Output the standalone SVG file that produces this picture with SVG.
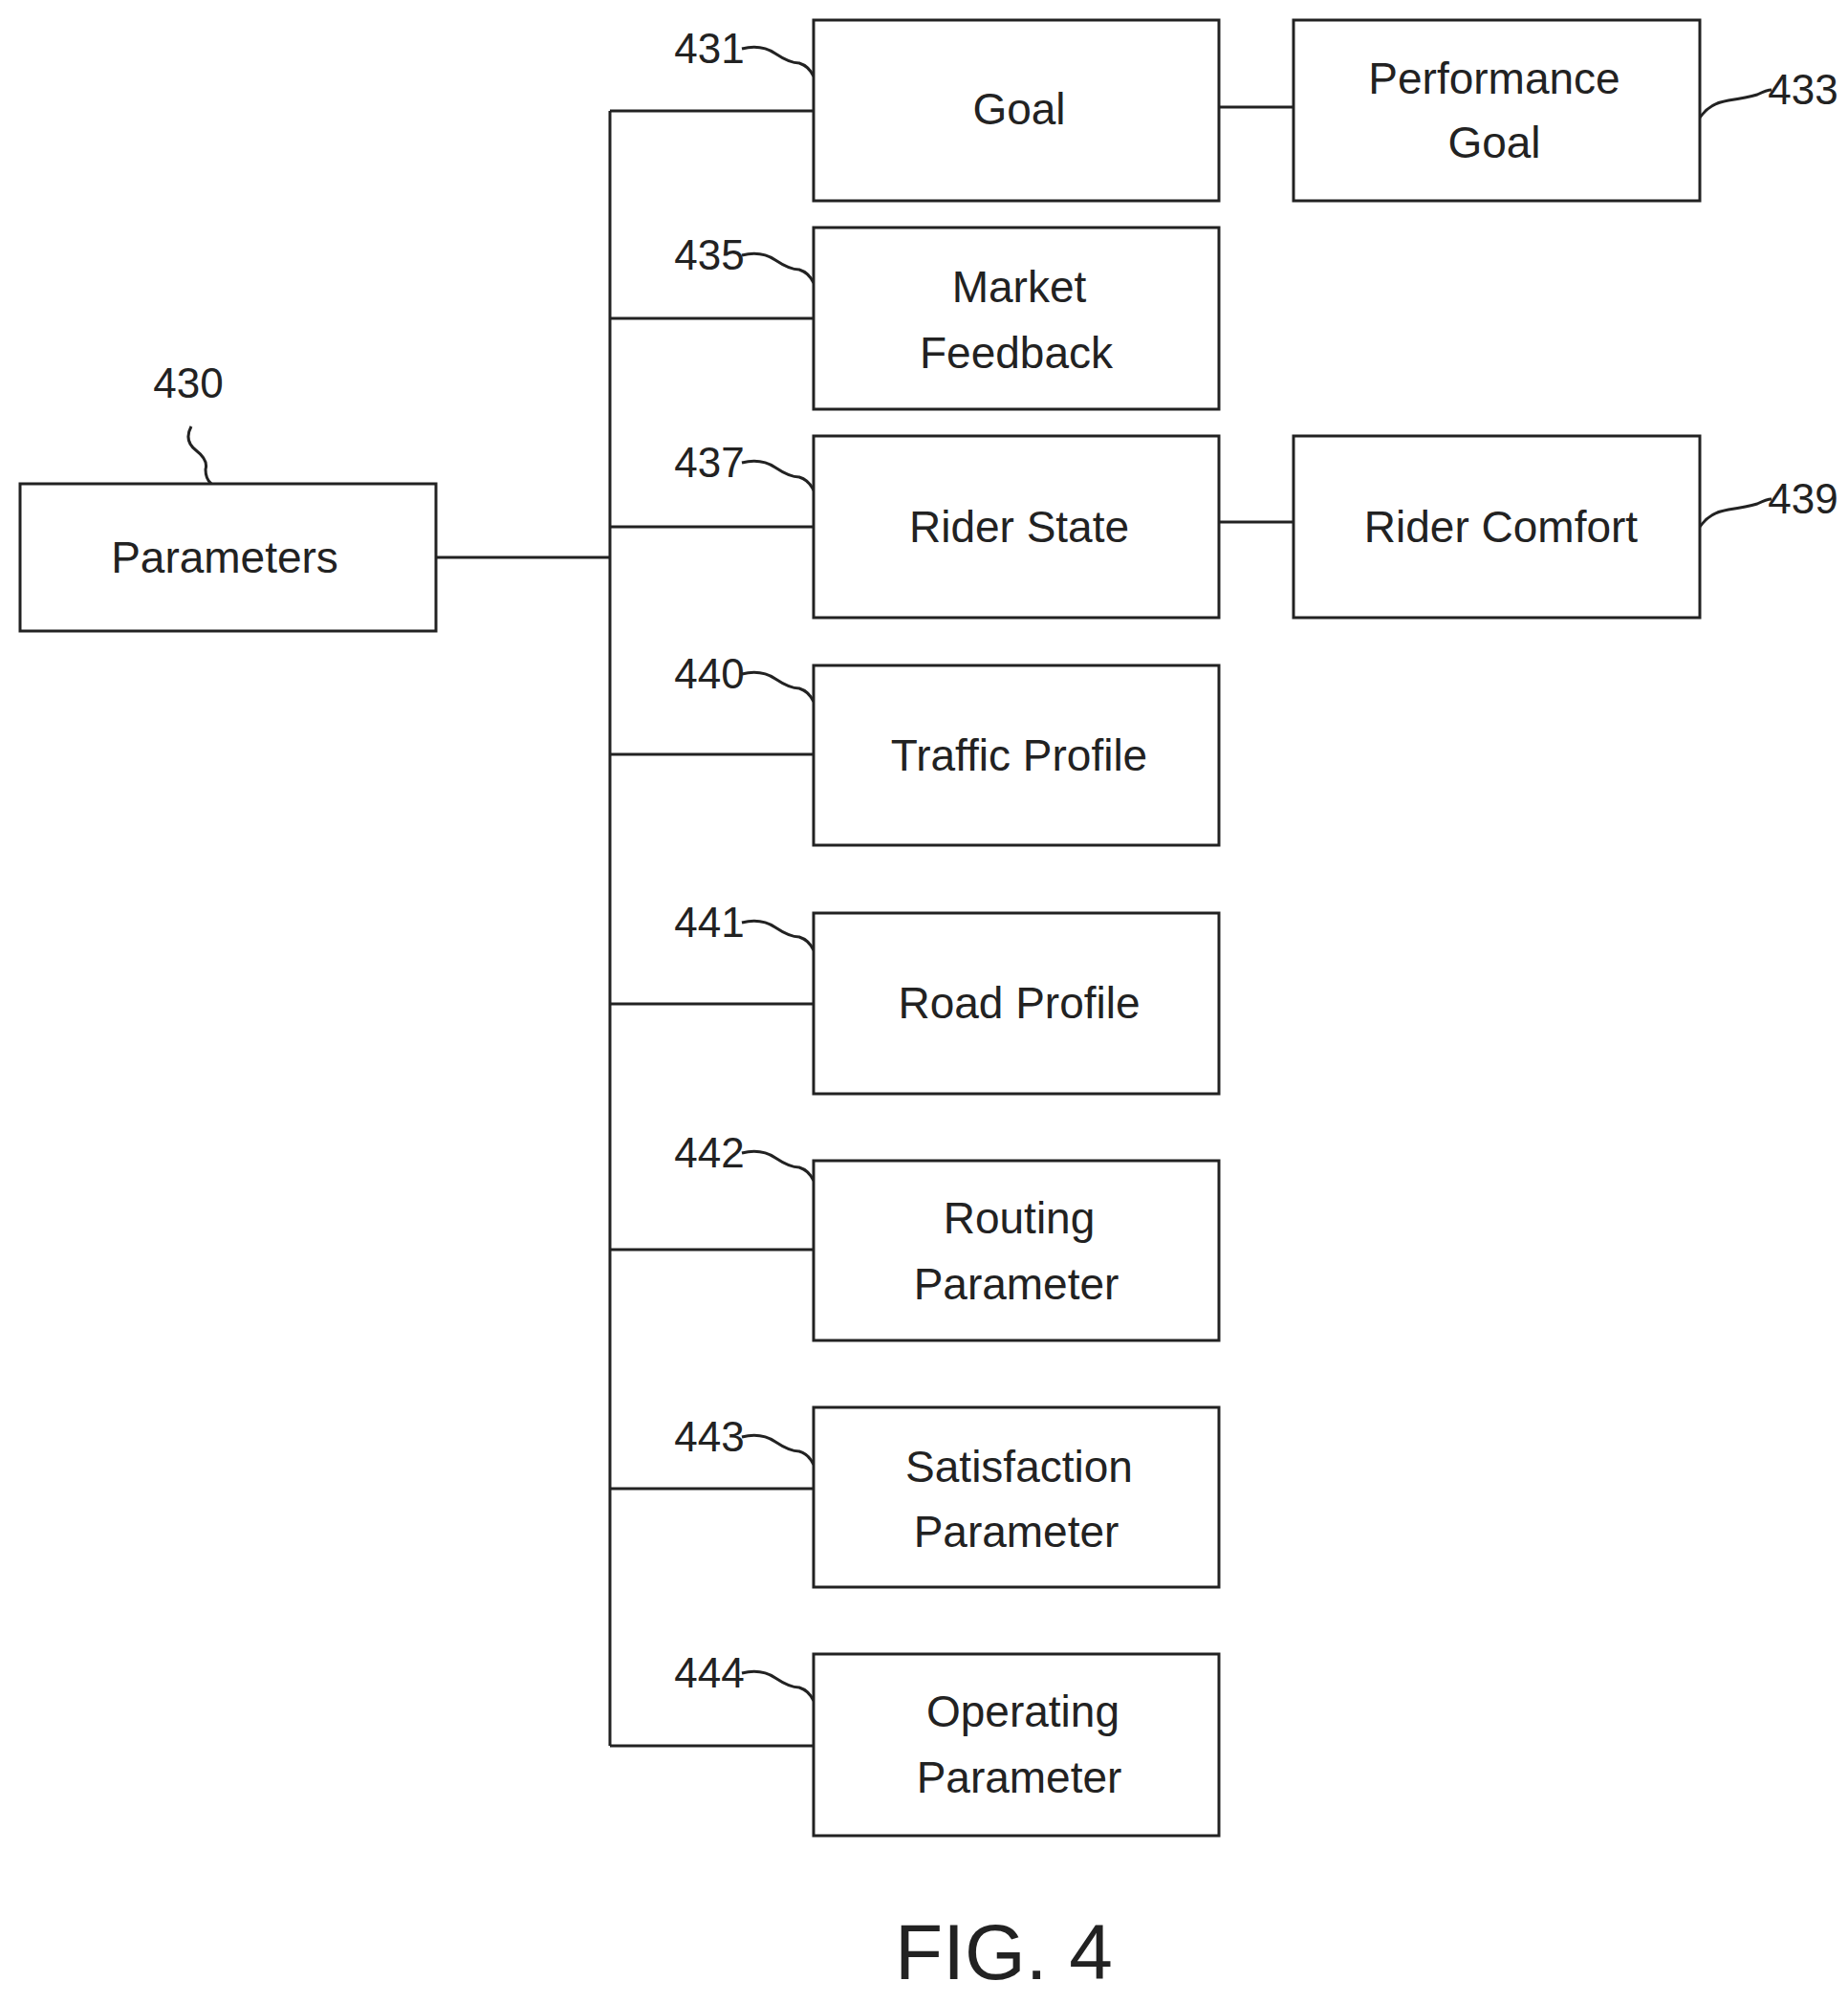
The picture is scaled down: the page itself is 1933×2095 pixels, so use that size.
<svg xmlns="http://www.w3.org/2000/svg" width="1933" height="2095" viewBox="0 0 1933 2095">
<style>
.b{fill:#fff;stroke:#222;stroke-width:3}
.t{font-family:"Liberation Sans",Arial,sans-serif;font-size:46px;fill:#222;text-anchor:middle}
.n{font-family:"Liberation Sans",Arial,sans-serif;font-size:44px;fill:#222;text-anchor:middle}
.c{fill:none;stroke:#222;stroke-width:3}
</style>
<rect width="1933" height="2095" fill="#fff"/>
<g id="connectors">
<path class="c" d="M456 583H638M638 116V1826M638 116H851M638 333H851M638 551H851M638 789H851M638 1050H851M638 1307H851M638 1557H851M638 1826H851M1275 112H1353M1275 546H1353"/>
<path class="c" d="M776 51q20-5 35 5t25 10q10 3 15 14M776 267q20-5 35 5t25 10q10 3 15 14M776 484q20-5 35 5t25 10q10 3 15 14M776 705q20-5 35 5t25 10q10 3 15 14M776 965q20-5 35 5t25 10q10 3 15 14M776 1206q20-5 35 5t25 10q10 3 15 14M776 1503q20-5 35 5t25 10q10 3 15 14M776 1750q20-5 35 5t25 10q10 3 15 14"/>
<path class="c" d="M200 446q-8 15 5 25t10 20q0 10 6 15M1778 123q10-15 30-18t30-6q10-5 15-5M1778 551q10-15 30-18t30-6q10-5 15-5"/>
</g>
<g class="n">
<text x="742" y="66">431</text><text x="742" y="282">435</text><text x="742" y="499">437</text><text x="742" y="720">440</text><text x="742" y="980">441</text><text x="742" y="1221">442</text><text x="742" y="1518">443</text><text x="742" y="1765">444</text>
<text x="197" y="416">430</text><text x="1886" y="109">433</text><text x="1886" y="537">439</text>
</g>
<g id="n430"><rect class="b" x="21" y="506" width="435" height="154"/><text class="t" x="235" y="599">Parameters</text></g>
<g id="n431"><rect class="b" x="851" y="21" width="424" height="189"/><text class="t" x="1066" y="130">Goal</text></g>
<g id="n433"><rect class="b" x="1353" y="21" width="425" height="189"/><text class="t" x="1563" y="98">Performance</text><text class="t" x="1563" y="165">Goal</text></g>
<g id="n435"><rect class="b" x="851" y="238" width="424" height="190"/><text class="t" x="1066" y="316">Market</text><text class="t" x="1063" y="385">Feedback</text></g>
<g id="n437"><rect class="b" x="851" y="456" width="424" height="190"/><text class="t" x="1066" y="567">Rider State</text></g>
<g id="n439"><rect class="b" x="1353" y="456" width="425" height="190"/><text class="t" x="1570" y="567">Rider Comfort</text></g>
<g id="n440"><rect class="b" x="851" y="696" width="424" height="188"/><text class="t" x="1066" y="806">Traffic Profile</text></g>
<g id="n441"><rect class="b" x="851" y="955" width="424" height="189"/><text class="t" x="1066" y="1065">Road Profile</text></g>
<g id="n442"><rect class="b" x="851" y="1214" width="424" height="188"/><text class="t" x="1066" y="1290">Routing</text><text class="t" x="1063" y="1359">Parameter</text></g>
<g id="n443"><rect class="b" x="851" y="1472" width="424" height="188"/><text class="t" x="1066" y="1550">Satisfaction</text><text class="t" x="1063" y="1618">Parameter</text></g>
<g id="n444"><rect class="b" x="851" y="1730" width="424" height="190"/><text class="t" x="1070" y="1806">Operating</text><text class="t" x="1066" y="1875">Parameter</text></g>
<text x="1050" y="2070" style="font-family:'Liberation Sans',Arial,sans-serif;font-size:82px;fill:#222;text-anchor:middle">FIG. 4</text>
</svg>
